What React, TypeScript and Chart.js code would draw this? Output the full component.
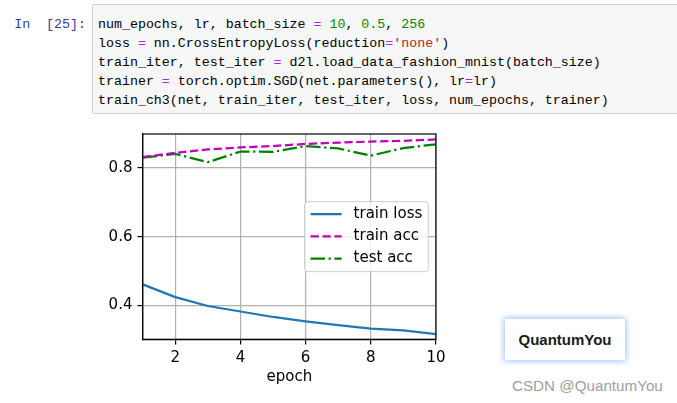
import React, { useEffect, useRef } from "react";
import { Chart, registerables } from "chart.js";

Chart.register(...registerables);

const epochs = [1, 2, 3, 4, 5, 6, 7, 8, 9, 10];
const trainLoss = [0.461, 0.424, 0.398, 0.382, 0.366, 0.353, 0.342, 0.332, 0.327, 0.316];
const trainAcc = [0.832, 0.844, 0.854, 0.860, 0.864, 0.870, 0.874, 0.877, 0.879, 0.883];
const testAcc = [0.830, 0.841, 0.817, 0.848, 0.847, 0.864, 0.857, 0.836, 0.858, 0.869];
const seriesLabels = ["train loss", "train acc", "test acc"];
const xTicks = [2, 4, 6, 8, 10];
const yTicks = [0.4, 0.6, 0.8];
const xLabel = "epoch";

const FONT = "DejaVu Sans";
const FS = 15;
const LW = 2.25;

const framePlugin = {
  id: "frame",
  afterDatasetsDraw(chart: any) {
    const { ctx, chartArea: a } = chart;
    ctx.save();
    ctx.strokeStyle = "#000";
    ctx.lineWidth = 1.2;
    ctx.strokeRect(a.left, a.top, a.right - a.left, a.bottom - a.top);
    ctx.restore();
  },
};

const legendPlugin = {
  id: "mplLegend",
  afterDraw(chart: any) {
    const { ctx, chartArea: a } = chart;
    const ds = chart.data.datasets;
    ctx.save();
    ctx.font = `${FS}px "${FONT}"`;
    let maxW = 0;
    ds.forEach((d: any) => {
      maxW = Math.max(maxW, ctx.measureText(d.label).width);
    });
    const textOff = 49;
    const w = textOff + maxW + 6;
    const rowH = 22.2;
    const h = 70;
    const right = a.right - 7.7;
    const left = right - w;
    const cy = (a.top + a.bottom) / 2;
    const top = cy - h / 2;
    const r = 3;
    ctx.beginPath();
    ctx.moveTo(left + r, top);
    ctx.lineTo(left + w - r, top);
    ctx.arcTo(left + w, top, left + w, top + r, r);
    ctx.lineTo(left + w, top + h - r);
    ctx.arcTo(left + w, top + h, left + w - r, top + h, r);
    ctx.lineTo(left + r, top + h);
    ctx.arcTo(left, top + h, left, top + h - r, r);
    ctx.lineTo(left, top + r);
    ctx.arcTo(left, top, left + r, top, r);
    ctx.closePath();
    ctx.fillStyle = "rgba(255,255,255,0.8)";
    ctx.fill();
    ctx.strokeStyle = "#cccccc";
    ctx.lineWidth = 1;
    ctx.stroke();
    ds.forEach((d: any, i: number) => {
      const y = top + 12.5 + i * rowH;
      ctx.beginPath();
      ctx.setLineDash(d.borderDash || []);
      ctx.strokeStyle = d.borderColor;
      ctx.lineWidth = d.borderWidth;
      ctx.moveTo(left + 6, y);
      ctx.lineTo(left + 37, y);
      ctx.stroke();
      ctx.setLineDash([]);
      ctx.fillStyle = "#000";
      ctx.textBaseline = "middle";
      ctx.textAlign = "left";
      ctx.fillText(d.label, left + textOff, y);
    });
    ctx.restore();
  },
};

function ChartBox() {
  const ref = useRef<HTMLCanvasElement | null>(null);
  useEffect(() => {
    if (!ref.current) return;
    const toPts = (vals: number[]) => epochs.map((x, i) => ({ x, y: vals[i] }));
    const chart = new Chart(ref.current, {
      type: "line",
      data: {
        datasets: [
          {
            label: seriesLabels[0],
            data: toPts(trainLoss),
            borderColor: "#1f77b4",
            borderWidth: LW,
            pointRadius: 0,
            clip: 0,
          },
          {
            label: seriesLabels[1],
            data: toPts(trainAcc),
            borderColor: "#bf00bf",
            borderWidth: LW,
            borderDash: [8.3, 3.6],
            pointRadius: 0,
            clip: 0,
          },
          {
            label: seriesLabels[2],
            data: toPts(testAcc),
            borderColor: "#008000",
            borderWidth: LW,
            borderDash: [14.4, 3.6, 2.25, 3.6],
            pointRadius: 0,
            clip: 0,
          },
        ],
      } as any,
      options: {
        animation: false,
        responsive: false,
        devicePixelRatio: 1,
        layout: { padding: { left: 0, top: 11.7, right: 14, bottom: 0 } },
        plugins: { legend: { display: false }, tooltip: { enabled: false } },
        scales: {
          x: {
            type: "linear",
            min: 1,
            max: 10,
            afterBuildTicks: (s: any) => {
              s.ticks = xTicks.map((v) => ({ value: v }));
            },
            afterFit: (s: any) => {
              s.height = 55.7;
            },
            grid: { color: "#b0b0b0", lineWidth: 1.2, tickColor: "#000", tickLength: 5.25 },
            border: { color: "#000", width: 1.2 },
            ticks: {
              color: "#000",
              font: { family: FONT, size: FS },
              padding: 4.5,
              maxRotation: 0,
              autoSkip: false,
            },
            title: {
              display: true,
              text: xLabel,
              color: "#000",
              font: { family: FONT, size: FS },
              padding: { top: 0, bottom: 9 },
            },
          },
          y: {
            type: "linear",
            min: 0.301,
            max: 0.899,
            afterBuildTicks: (s: any) => {
              s.ticks = yTicks.map((v) => ({ value: v }));
            },
            afterFit: (s: any) => {
              s.width = 52.7;
            },
            grid: { color: "#b0b0b0", lineWidth: 1.2, tickColor: "#000", tickLength: 5.25 },
            border: { color: "#000", width: 1.2 },
            ticks: {
              color: "#000",
              font: { family: FONT, size: FS },
              padding: 5,
              autoSkip: false,
              callback: (v: any) => Number(v).toFixed(1),
            },
          },
        },
      } as any,
      plugins: [framePlugin, legendPlugin],
    });
    return () => chart.destroy();
  }, []);
  return (
    <canvas
      ref={ref}
      width={360}
      height={275}
      style={{ position: "absolute", left: 90, top: 120, width: 360, height: 275 }}
    />
  );
}

const P = ({ c, children }: { c: string; children: any }) => (
  <span style={{ color: c }}>{children}</span>
);
const EQ = "#AA22FF";
const NUM = "#008800";
const STR = "#BA2121";

export default function App() {
  return (
    <div
      style={{
        position: "absolute",
        left: 0,
        top: 0,
        width: 677,
        height: 403,
        overflow: "hidden",
        background: "#fff",
      }}
    >
      <div
        style={{
          position: "absolute",
          left: 0,
          top: 15,
          width: 86,
          textAlign: "right",
          fontFamily: "'Liberation Mono', monospace",
          fontSize: 13.3,
          lineHeight: "19px",
          color: "#303F9F",
          whiteSpace: "pre",
        }}
      >
        {"In  [25]:"}
      </div>
      <div
        style={{
          position: "absolute",
          left: 92,
          top: 4,
          width: 620,
          height: 110,
          boxSizing: "border-box",
          border: "1px solid #cfcfcf",
          borderRadius: 2,
          background: "#f7f7f7",
          padding: "10px 5px 0 5px",
          fontFamily: "'Liberation Mono', monospace",
          fontSize: 13.3,
          lineHeight: "19px",
          color: "#000",
          whiteSpace: "pre",
        }}
      >
        <div>
          num_epochs, lr, batch_size <P c={EQ}>=</P> <P c={NUM}>10</P>, <P c={NUM}>0.5</P>,{" "}
          <P c={NUM}>256</P>
        </div>
        <div>
          loss <P c={EQ}>=</P> nn.CrossEntropyLoss(reduction<P c={EQ}>=</P>
          <P c={STR}>'none'</P>)
        </div>
        <div>
          train_iter, test_iter <P c={EQ}>=</P> d2l.load_data_fashion_mnist(batch_size)
        </div>
        <div>
          trainer <P c={EQ}>=</P> torch.optim.SGD(net.parameters(), lr<P c={EQ}>=</P>lr)
        </div>
        <div>train_ch3(net, train_iter, test_iter, loss, num_epochs, trainer)</div>
      </div>
      <ChartBox />
      <div
        style={{
          position: "absolute",
          left: 505,
          top: 319,
          width: 120,
          height: 41,
          background: "#fff",
          boxShadow: "0 0 6px 1px rgba(60,140,255,0.55)",
          display: "flex",
          alignItems: "center",
          justifyContent: "center",
          fontFamily: "'Liberation Sans', Arial, sans-serif",
          fontWeight: "bold",
          fontSize: 15,
          color: "#1a1a1a",
        }}
      >
        QuantumYou
      </div>
      <div
        style={{
          position: "absolute",
          left: 512,
          top: 376,
          fontFamily: "'Liberation Sans', Arial, sans-serif",
          fontSize: 15.2,
          lineHeight: "19px",
          color: "#a0a0a0",
          whiteSpace: "pre",
        }}
      >
        CSDN @QuantumYou
      </div>
    </div>
  );
}
